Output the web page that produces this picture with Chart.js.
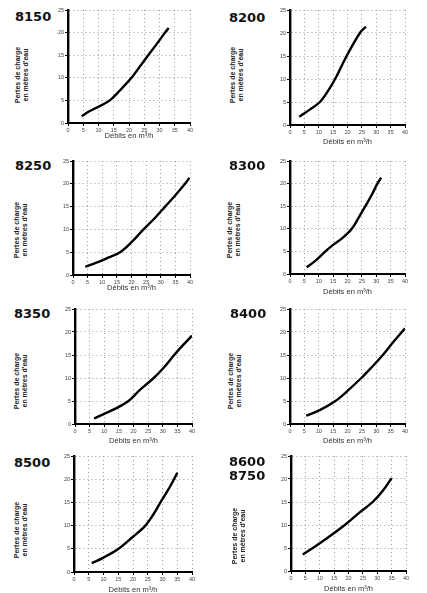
<!DOCTYPE html>
<html><head><meta charset="utf-8">
<script src="https://cdn.jsdelivr.net/npm/chart.js@4"></script>
<style>
html,body{margin:0;padding:0;background:#fff;width:427px;height:593px;overflow:hidden;position:relative}
canvas{position:absolute}
.ttl{position:absolute;font:bold 13px "DejaVu Sans";line-height:14px;color:#111;white-space:nowrap}
.yt{position:absolute;width:80px;height:16px;font:bold 7px "Liberation Sans";line-height:8px;text-align:center;color:#222;transform:rotate(-90deg);white-space:nowrap}
</style></head><body>
<script>
// ---- data ----
const models = [['8150'], ['8200'], ['8250'], ['8300'], ['8350'], ['8400'], ['8500'], ['8600', '8750']];
const xTicks = [0, 5, 10, 15, 20, 25, 30, 35, 40];
const yTicks = [0, 5, 10, 15, 20, 25];
const xLabel = 'Débits en m³/h';
const yLabel = ['Pertes de charge', "en mètres d'eau"];

const flow8150 = [4.5, 7, 10, 13.7, 17, 20.8, 24, 26.3, 29, 31.8, 33];
const loss8150 = [1.5, 2.6, 3.6, 5, 7.2, 10, 12.9, 15, 17.4, 20, 21];
const flow8200 = [3.2, 7, 10.4, 13, 15.7, 19.7, 24.3, 26.4];
const loss8200 = [1.8, 3.4, 5, 7.2, 10, 15, 20, 21.4];
const flow8250 = [4.2, 8, 12, 16.1, 20, 24.1, 28, 31.5, 35, 38.3, 39.8];
const loss8250 = [1.8, 2.7, 3.8, 5, 7.2, 10, 12.5, 15, 17.5, 20, 21.3];
const flow8300 = [5.8, 9, 12.3, 15.1, 18.3, 21.5, 24, 26.2, 28.5, 30.4, 31.7];
const loss8300 = [1.5, 3, 5, 6.5, 8, 10, 12.6, 15, 17.6, 20, 21.3];
const flow8350 = [6.5, 10, 14, 18.3, 22, 26.9, 30, 33.9, 37, 40];
const loss8350 = [1.2, 2.2, 3.4, 5, 7.3, 10, 12, 15, 17.2, 19.2];
const flow8400 = [5.6, 10, 15.8, 20, 24.8, 28.5, 32.3, 35.5, 40];
const loss8400 = [1.8, 2.9, 5, 7.2, 10, 12.4, 15, 17.5, 20.8];
const flow8500 = [6, 10, 15.1, 20, 24.2, 27, 29.3, 32, 33.9, 35];
const loss8500 = [1.9, 3.1, 5, 7.6, 10, 12.5, 15, 17.8, 20, 21.4];
const flow8600 = [4.1, 7.6, 12, 18.7, 24, 28.4, 32, 35];
const loss8600 = [3.6, 5, 6.9, 10, 12.8, 15, 17.5, 20.2];

const flows = [flow8150, flow8200, flow8250, flow8300, flow8350, flow8400, flow8500, flow8600];
const losses = [loss8150, loss8200, loss8250, loss8300, loss8350, loss8400, loss8500, loss8600];

// ---- layout (positions only) ----
const panels = [
  {col:0,   L:68,  T:10,  R:190, B:123, tx:15,  ty:10,  yx:22,  yy:75,  xt:13},
  {col:213, L:290, T:10,  R:405, B:125, tx:229, ty:11,  yx:237, yy:75,  xt:17},
  {col:0,   L:73,  T:161, R:190, B:275, tx:15,  ty:159, yx:21,  yy:230, xt:13},
  {col:213, L:290, T:161, R:405, B:274, tx:229, ty:159, yx:234, yy:230, xt:18},
  {col:0,   L:75,  T:309, R:192, B:424, tx:14,  ty:307, yx:21,  yy:381, xt:17},
  {col:213, L:290, T:309, R:405, B:424, tx:230, ty:307, yx:235, yy:381, xt:17},
  {col:0,   L:74,  T:456, R:192, B:572, tx:14,  ty:456, yx:21,  yy:530, xt:18},
  {col:213, L:291, T:456, R:406, B:571, tx:229, ty:455, yx:239, yy:536, xt:18}
];
const COLW = 214, TOPPAD = 6, XH = 28;

panels.forEach((p, i) => {
  const t = document.createElement('div');
  t.className = 'ttl';
  t.style.left = p.tx + 'px'; t.style.top = p.ty + 'px';
  t.innerHTML = models[i].join('<br>');
  document.body.appendChild(t);

  const yt = document.createElement('div');
  yt.className = 'yt';
  yt.style.left = (p.yx - 40) + 'px'; yt.style.top = (p.yy - 8) + 'px';
  yt.innerHTML = yLabel.join('<br>');
  document.body.appendChild(yt);

  const c = document.createElement('canvas');
  const h = p.B - p.T + TOPPAD + XH;
  c.width = COLW; c.height = h;
  c.style.left = p.col + 'px'; c.style.top = (p.T - TOPPAD) + 'px';
  c.style.width = COLW + 'px'; c.style.height = h + 'px';
  document.body.appendChild(c);

  const tickFont = {size: 5.5, family: 'Liberation Sans'};
  new Chart(c, {
    type: 'line',
    data: {datasets: [{
      data: flows[i].map((x, k) => ({x: x, y: losses[i][k]})),
      borderColor: '#000', borderWidth: 2.4, pointRadius: 0,
      tension: 0.35, fill: false
    }]},
    options: {
      responsive: false, animation: false, devicePixelRatio: 1,
      layout: {padding: {top: TOPPAD, right: COLW - (p.R - p.col), left: 0, bottom: 0}},
      plugins: {legend: {display: false}, tooltip: {enabled: false}},
      scales: {
        x: {
          type: 'linear', min: 0, max: 40,
          afterBuildTicks: s => { s.ticks = xTicks.map(v => ({value: v})); },
          afterFit: s => { s.height = XH; },
          grid: {color: '#9a9a9a', lineWidth: 1, drawTicks: true, tickLength: 3, tickColor: '#000'},
          border: {display: true, color: '#000', width: 2, dash: [1, 3]},
          ticks: {font: tickFont, color: '#444', padding: 1, maxRotation: 0, autoSkip: false},
          title: {display: true, text: xLabel, font: {size: 7.5, family: 'Liberation Sans'}, color: '#333',
                  padding: {top: 0, bottom: XH - p.xt - 4.5}}
        },
        y: {
          type: 'linear', min: 0, max: 25,
          afterBuildTicks: s => { s.ticks = yTicks.map(v => ({value: v})); },
          afterFit: s => { s.width = p.L - p.col; },
          grid: {color: '#9a9a9a', lineWidth: 1, drawTicks: true, tickLength: 3, tickColor: '#000'},
          border: {display: true, color: '#000', width: 2.4, dash: [1, 3]},
          ticks: {font: tickFont, color: '#444', padding: 1, autoSkip: false}
        }
      }
    }
  });
});
</script>
</body></html>
